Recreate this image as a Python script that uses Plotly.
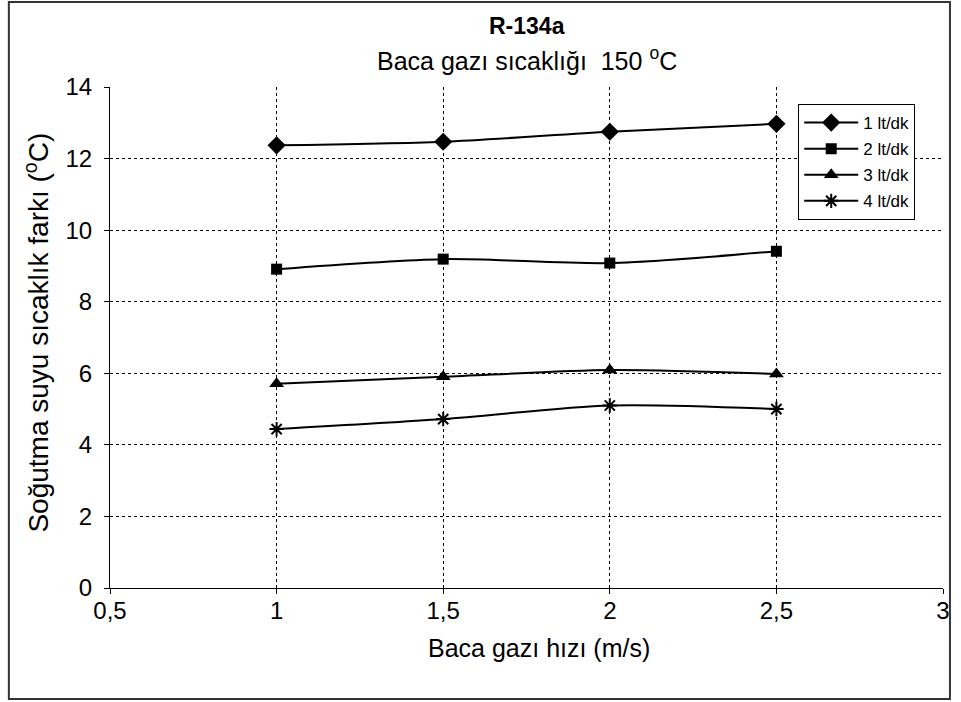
import plotly.graph_objects as go

x_vals = [1, 1.5, 2, 2.5]
s1 = [12.37, 12.47, 12.75, 12.97]
s2 = [8.91, 9.19, 9.08, 9.41]
s3 = [5.71, 5.90, 6.09, 5.98]
s4 = [4.44, 4.72, 5.10, 5.00]
names = ["1 lt/dk", "2 lt/dk", "3 lt/dk", "4 lt/dk"]
symbols = ["diamond", "square", "triangle-up", "asterisk-open"]
sizes = [14, 11, 13, 12]

title_main = "<b>R-134a</b>"
title_sub = "Baca gazı sıcaklığı  150 <sup>o</sup>C"
x_title = "Baca gazı hızı (m/s)"
y_title = "Soğutma suyu sıcaklık farkı (<sup>o</sup>C)"

FONT = "Liberation Sans, Arial, sans-serif"

fig = go.Figure()
for ys, nm, sym, sz in zip([s1, s2, s3, s4], names, symbols, sizes):
    fig.add_trace(go.Scatter(
        x=x_vals, y=ys, name=nm, legendgroup=nm, mode="lines+markers",
        line=dict(color="black", width=2, shape="spline", smoothing=0.8),
        marker=dict(symbol=sym, size=sz, color="black",
                    line=dict(color="black", width=2 if "asterisk" in sym else 0)),
    ))

L, R, T, B = 110, 950, 87, 588
W, H = R - L, B - T

def px(x):
    return (x - L) / W

def py(y):
    return (B - y) / H

fig.update_layout(
    width=961, height=702,
    margin=dict(l=L, r=961 - R, t=T, b=702 - B),
    paper_bgcolor="white", plot_bgcolor="white",
    separators=", ",
    font=dict(family=FONT, size=24, color="black"),
    showlegend=True,
    legend=dict(x=px(804), y=py(104), xanchor="left", yanchor="top",
                bgcolor="white", bordercolor="black", borderwidth=1,
                font=dict(size=17, family=FONT), tracegroupgap=1,
                itemwidth=54),
    xaxis=dict(range=[0.5, 3], dtick=0.5, tick0=0.5, showline=True, linecolor="black",
               linewidth=1, ticks="outside", ticklen=5, tickcolor="black",
               showgrid=True, gridcolor="black", griddash="3px,3px", gridwidth=1,
               zeroline=False, tickfont=dict(size=24), ticklabelstandoff=-4),
    yaxis=dict(range=[0, 14], dtick=2, showline=True, linecolor="black",
               linewidth=1, ticks="outside", ticklen=5, tickcolor="black",
               showgrid=True, gridcolor="black", griddash="3px,3px", gridwidth=1,
               zeroline=False, tickfont=dict(size=24), ticklabelstandoff=7),
    annotations=[
        dict(text=title_main, xref="paper", yref="paper",
             x=px(531), y=py(26), showarrow=False,
             font=dict(size=23), xanchor="center", yanchor="middle"),
        dict(text=title_sub, xref="paper", yref="paper",
             x=px(530), y=py(59), showarrow=False,
             font=dict(size=25), xanchor="center", yanchor="middle"),
        dict(text=x_title, xref="paper", yref="paper",
             x=px(543), y=py(648), showarrow=False,
             font=dict(size=25), xanchor="center", yanchor="middle"),
        dict(text=y_title, xref="paper", yref="paper",
             x=px(36), y=py(333), showarrow=False, textangle=-90,
             font=dict(size=28), xanchor="center", yanchor="middle"),
    ],
    shapes=[
        dict(type="rect", xref="paper", yref="paper",
             x0=px(8), x1=px(957), y0=py(699), y1=py(2),
             line=dict(color="#333333", width=2), fillcolor="rgba(0,0,0,0)", layer="below"),
    ],
)

fig.write_html("out.html")
